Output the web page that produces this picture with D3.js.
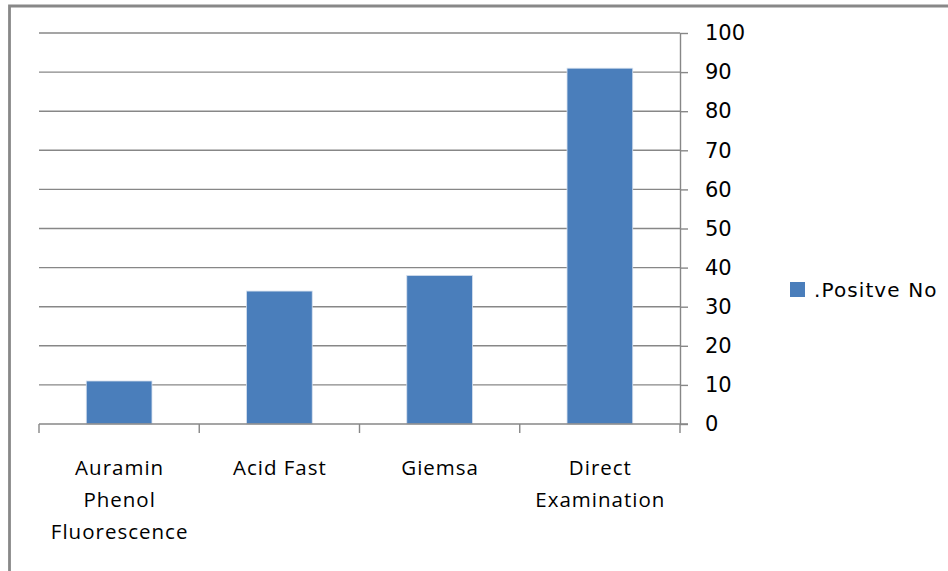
<!DOCTYPE html>
<html>
<head>
<meta charset="utf-8">
<script src="https://cdn.jsdelivr.net/npm/d3@7"></script>
<style>
  body { margin: 0; background: #fff; }
  svg { display: block; }
</style>
</head>
<body>
<div id="chart"></div>
<script>
// Chart data
const categories = ["Auramin Phenol Fluorescence", "Acid Fast", "Giemsa", "Direct Examination"];
const labelLines = [["Auramin", "Phenol", "Fluorescence"], ["Acid Fast"], ["Giemsa"], ["Direct", "Examination"]];
const positiveNo = [11, 34, 38, 91];
const yTicks = [0, 10, 20, 30, 40, 50, 60, 70, 80, 90, 100];
const seriesName = ".Positve No";

const width = 948, height = 571;
const plotLeft = 39, plotRight = 680, plotTop = 33, plotBottom = 424;

const svg = d3.select("#chart").append("svg")
    .attr("width", width)
    .attr("height", height);

// Outer frame (cropped chart border)
svg.append("path")
    .attr("d", `M9.5,${height} L9.5,6 L${width},6`)
    .attr("fill", "none")
    .attr("stroke", "#888")
    .attr("stroke-width", 2.8);

// Scales
const x = d3.scaleBand()
    .domain(categories)
    .range([plotLeft, plotRight])
    .paddingInner(0.59)
    .paddingOuter(0.295);

const y = d3.scaleLinear()
    .domain([0, 100])
    .range([plotBottom, plotTop]);

// Gridlines
svg.append("g")
    .selectAll("line")
    .data(yTicks.filter(d => d > 0))
    .enter().append("line")
    .attr("x1", plotLeft)
    .attr("x2", plotRight)
    .attr("y1", d => y(d))
    .attr("y2", d => y(d))
    .attr("stroke", "#878787")
    .attr("stroke-width", 1.4);

// Bars
svg.append("g")
    .selectAll("rect")
    .data(positiveNo)
    .enter().append("rect")
    .attr("x", (d, i) => x(categories[i]))
    .attr("y", d => y(d))
    .attr("width", x.bandwidth())
    .attr("height", d => y(0) - y(d))
    .attr("fill", "#4a7ebb")
    .attr("stroke", "#d6e0ee")
    .attr("stroke-width", 0.8);

// Y axis on the right
const yAxis = svg.append("g")
    .attr("transform", `translate(${plotRight},0)`)
    .call(d3.axisRight(y).tickValues(yTicks).tickSize(8).tickSizeOuter(0).tickPadding(17));
yAxis.select(".domain").attr("stroke", "#878787").attr("stroke-width", 1.4);
yAxis.selectAll(".tick line").attr("stroke", "#878787").attr("stroke-width", 1.4);
yAxis.selectAll(".tick text")
    .attr("fill", "#000")
    .style("font-family", "'DejaVu Sans', sans-serif")
    .style("font-size", "21px");

// X axis line with category dividers
const xAxis = svg.append("g");
xAxis.append("line")
    .attr("x1", plotLeft)
    .attr("x2", plotRight + 8)
    .attr("y1", plotBottom)
    .attr("y2", plotBottom)
    .attr("stroke", "#878787")
    .attr("stroke-width", 1.4);
const step = x.step();
xAxis.selectAll("line.div")
    .data(d3.range(categories.length + 1))
    .enter().append("line")
    .attr("class", "div")
    .attr("x1", i => plotLeft + i * step)
    .attr("x2", i => plotLeft + i * step)
    .attr("y1", plotBottom)
    .attr("y2", plotBottom + 9)
    .attr("stroke", "#878787")
    .attr("stroke-width", 1.4);

// Category labels
xAxis.selectAll("text.cat")
    .data(categories)
    .enter().append("text")
    .attr("class", "cat")
    .attr("text-anchor", "middle")
    .attr("fill", "#000")
    .style("font-family", "'Open Sans', sans-serif")
    .style("font-size", "20.5px")
    .style("letter-spacing", "1px")
    .each(function(d, i) {
        const t = d3.select(this);
        labelLines[i].forEach((line, j) => {
            t.append("tspan")
                .attr("x", x(d) + x.bandwidth() / 2 + 0.5)
                .attr("y", 475 + j * 32)
                .text(line);
        });
    });

// Legend
const legend = svg.append("g").attr("transform", "translate(790,282)");
legend.append("rect")
    .attr("width", 15)
    .attr("height", 15)
    .attr("fill", "#4a7ebb");
legend.append("text")
    .attr("x", 24)
    .attr("y", 15)
    .attr("fill", "#000")
    .style("font-family", "'DejaVu Sans', sans-serif")
    .style("font-size", "20px")
    .style("letter-spacing", "1.1px")
    .text(seriesName);
</script>
</body>
</html>
